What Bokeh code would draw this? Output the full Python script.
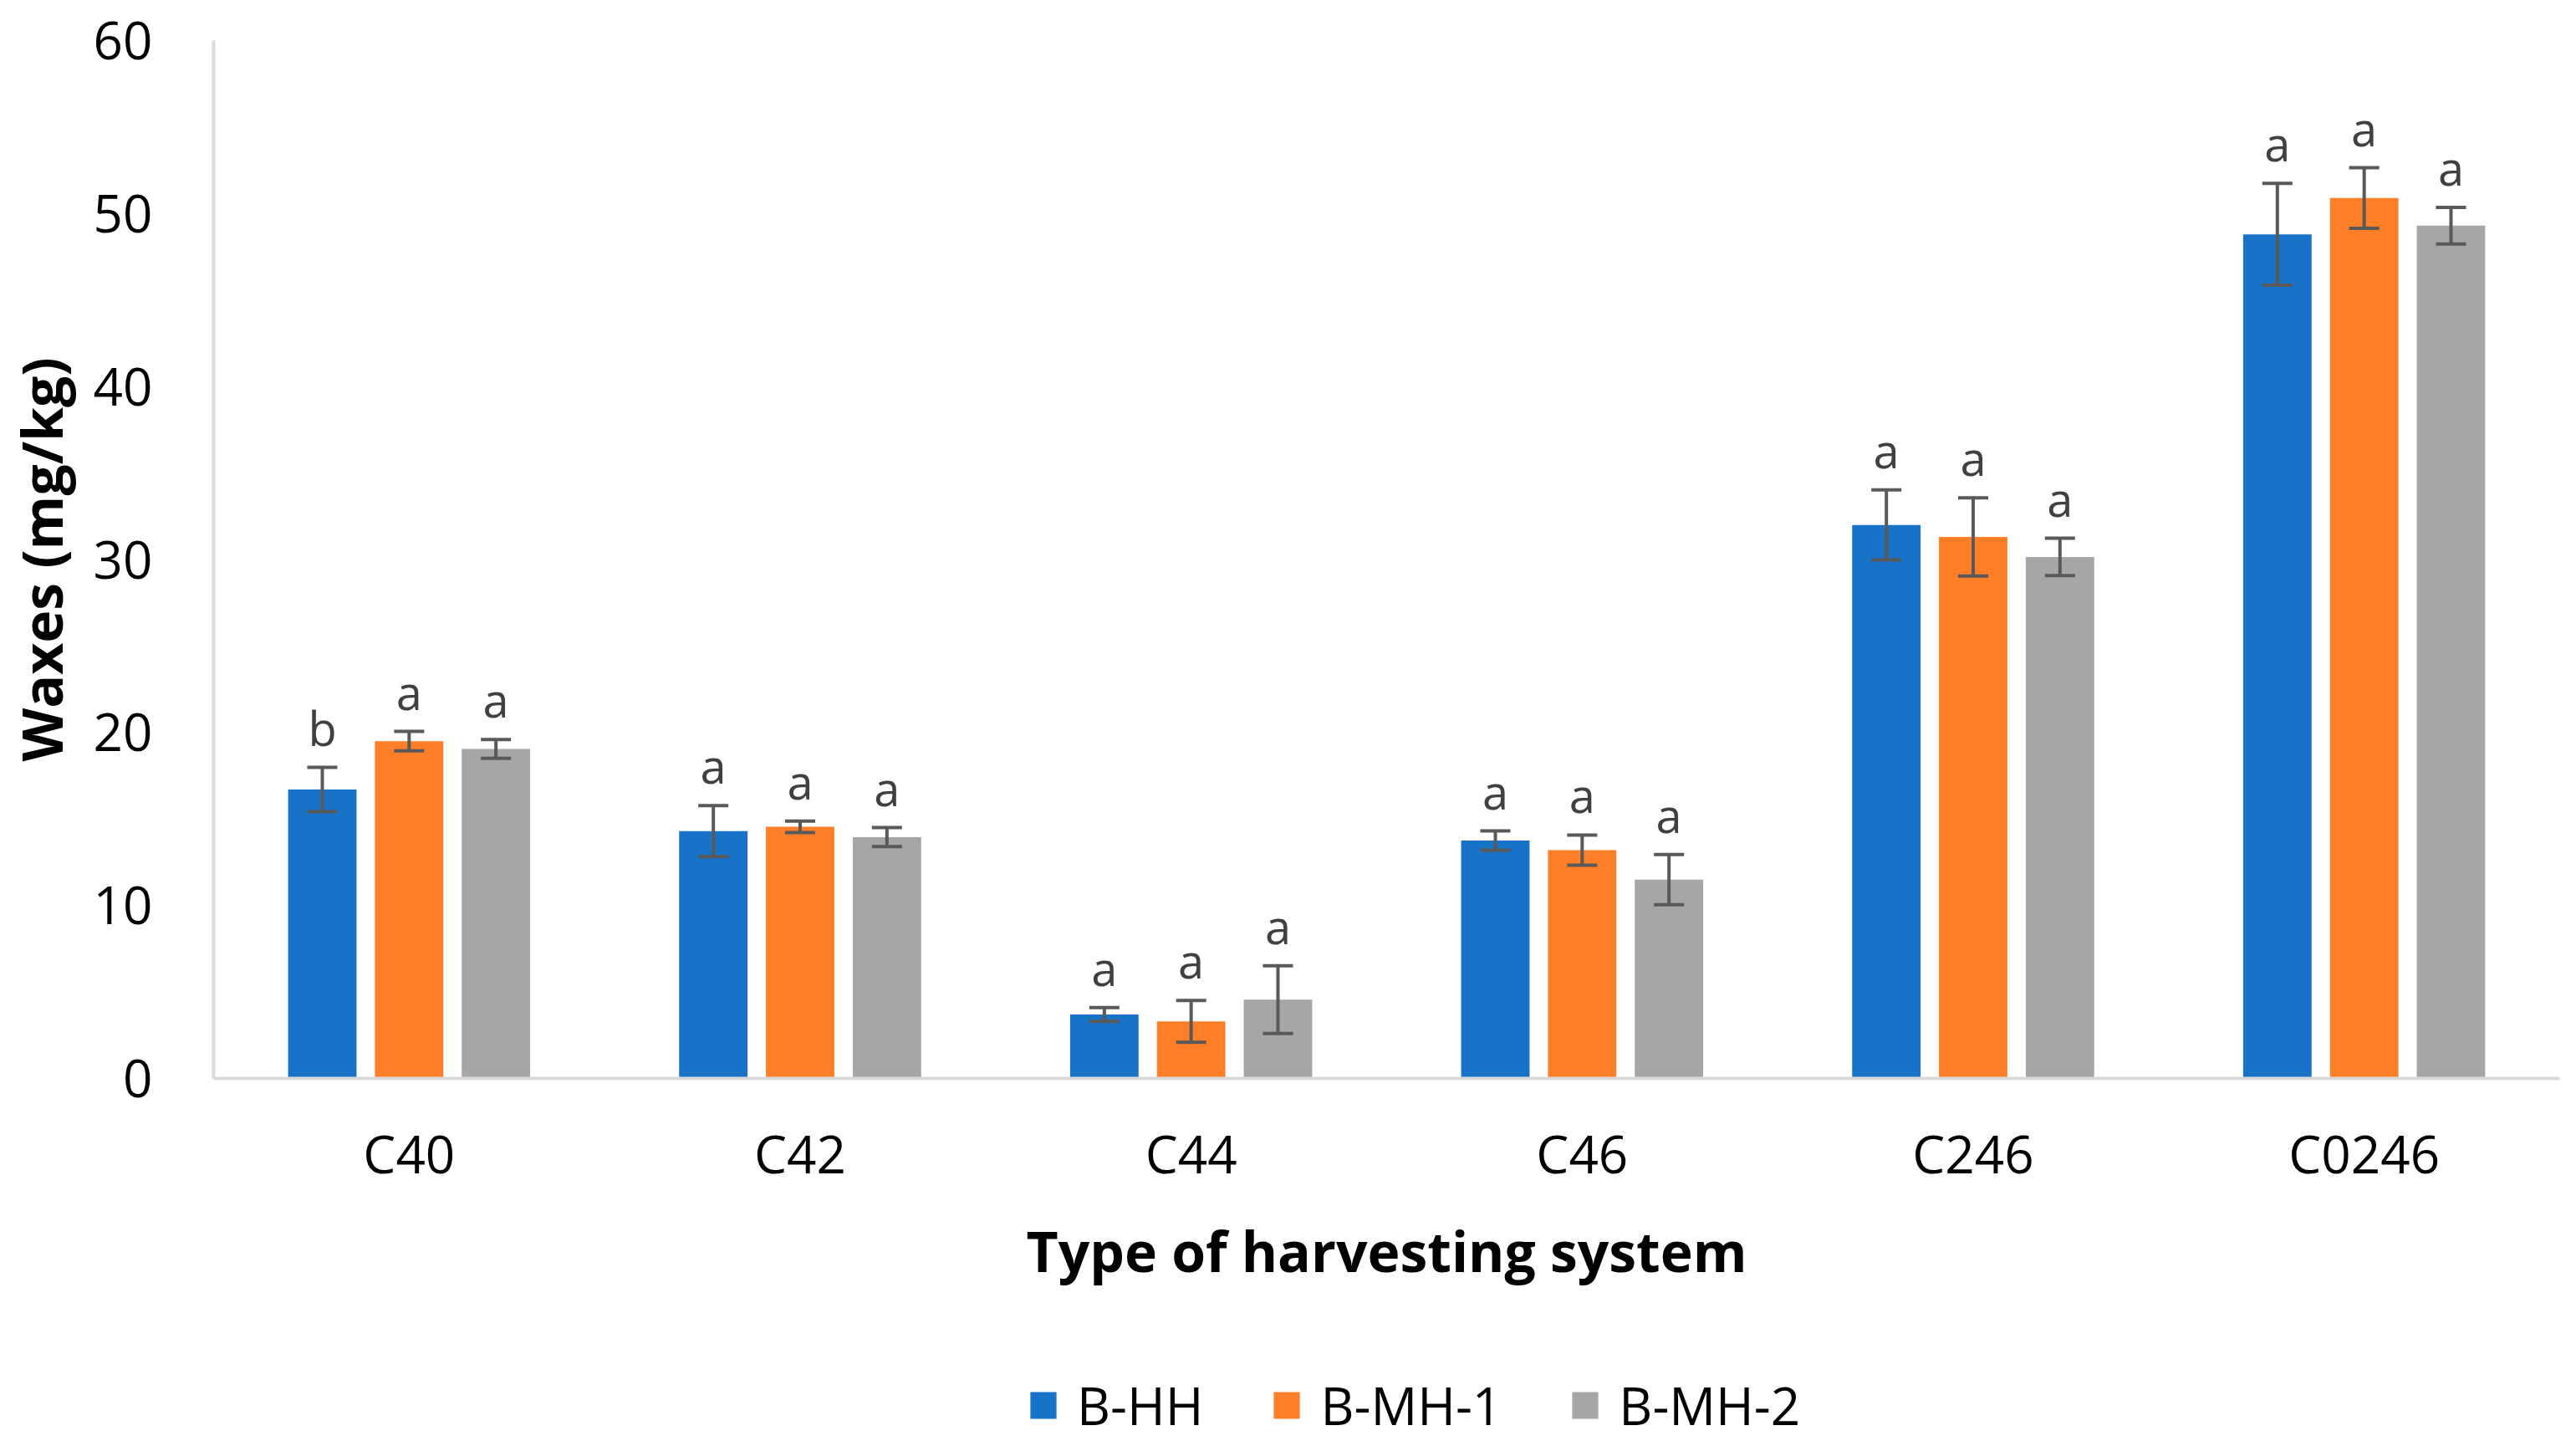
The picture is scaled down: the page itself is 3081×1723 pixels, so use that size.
from bokeh.plotting import figure
from bokeh.layouts import column
from bokeh.models import (ColumnDataSource, FactorRange, Range1d, Whisker, LabelSet,
                          Legend, LegendItem, FixedTicker, TeeHead)
from bokeh.transform import dodge
from bokeh.core.properties import value
from bokeh.embed import file_html
from bokeh.resources import INLINE

# ---- data ----
categories = ["C40", "C42", "C44", "C46", "C246", "C0246"]
series_names = ["B-HH", "B-MH-1", "B-MH-2"]

bhh = [16.7, 14.3, 3.7, 13.75, 32.0, 48.8]
bhh_err = [1.28, 1.47, 0.40, 0.56, 2.02, 2.94]
bhh_sig = ["b", "a", "a", "a", "a", "a"]

bmh1 = [19.5, 14.55, 3.3, 13.2, 31.3, 50.9]
bmh1_err = [0.56, 0.33, 1.21, 0.87, 2.26, 1.75]
bmh1_sig = ["a", "a", "a", "a", "a", "a"]

bmh2 = [19.05, 13.95, 4.56, 11.5, 30.15, 49.3]
bmh2_err = [0.54, 0.55, 1.96, 1.45, 1.08, 1.06]
bmh2_sig = ["a", "a", "a", "a", "a", "a"]

y_ticks = [0, 10, 20, 30, 40, 50, 60]

colors = ["#1873C8", "#FE7F27", "#A6A6A6"]
offsets = [-0.222, 0.0, 0.222]
FONT = "Open Sans"

p = figure(x_range=FactorRange(*categories), y_range=Range1d(0, 60),
           width=3065, height=1598, output_backend="svg", toolbar_location=None,
           min_border_left=247, min_border_right=4, min_border_top=48,
           min_border_bottom=309)

# legend strip: a separate figure below the chart sharing the chart's ranges
q = figure(x_range=p.x_range, y_range=p.y_range, width=3065, height=109,
           output_backend="svg", toolbar_location=None,
           x_axis_type=None, y_axis_type=None,
           min_border_left=0, min_border_right=0, min_border_top=0, min_border_bottom=0)
q.outline_line_color = None
q.xgrid.grid_line_color = None
q.ygrid.grid_line_color = None

leg_renderers = []
for vals, errs, sig, col, off in zip([bhh, bmh1, bmh2], [bhh_err, bmh1_err, bmh2_err],
                                     [bhh_sig, bmh1_sig, bmh2_sig], colors, offsets):
    src = ColumnDataSource(dict(cat=categories, val=vals,
                                upper=[v + e for v, e in zip(vals, errs)],
                                lower=[v - e for v, e in zip(vals, errs)],
                                sig=sig))
    p.vbar(x=dodge("cat", off, range=p.x_range), top="val", width=0.175,
           source=src, fill_color=col, line_color=None)
    # hidden copy in the legend strip, used only for its legend swatch
    lr = q.vbar(x=dodge("cat", off, range=p.x_range), top="val", width=0.175,
                source=src, fill_color=col, line_color=None, visible=False)
    leg_renderers.append(lr)
    w = Whisker(base=dodge("cat", off, range=p.x_range), upper="upper", lower="lower",
                source=src, line_color="#595959", line_width=4, level="annotation",
                upper_head=TeeHead(size=36, line_color="#595959", line_width=4),
                lower_head=TeeHead(size=36, line_color="#595959", line_width=4))
    p.add_layout(w)
    lab = LabelSet(x=dodge("cat", off, range=p.x_range), y="upper", text="sig",
                   source=src, y_offset=48, text_align="center", text_baseline="middle",
                   text_font=value(FONT), text_font_size="56px", text_color="#404040")
    p.add_layout(lab)

# axes
for ax in (p.xaxis, p.yaxis):
    ax.axis_line_color = "#D9D9D9"
    ax.axis_line_width = 4
    ax.major_tick_line_color = None
    ax.minor_tick_line_color = None
    ax.major_label_text_font = FONT
    ax.major_label_text_font_size = "62px"
    ax.major_label_text_color = "#000000"
    ax.axis_label_text_font = FONT
    ax.axis_label_text_font_size = "66px"
    ax.axis_label_text_font_style = "bold"
    ax.axis_label_text_color = "#000000"

p.xaxis.axis_label = "Type of harvesting system"
p.yaxis.axis_label = "Waxes (mg/kg)"
p.yaxis.ticker = FixedTicker(ticks=y_ticks)
p.xaxis.major_label_standoff = 41
p.xaxis.axis_label_standoff = 26
p.yaxis.major_label_standoff = 67
p.yaxis.axis_label_standoff = 15

p.xgrid.grid_line_color = None
p.ygrid.grid_line_color = None
p.outline_line_color = None
p.background_fill_color = "white"
p.border_fill_color = "white"

legend = Legend(items=[LegendItem(label=n, renderers=[r]) for n, r in zip(series_names, leg_renderers)],
                orientation="horizontal", location=(973, -15),
                glyph_width=39, glyph_height=40, label_standoff=21, spacing=80,
                padding=0, margin=0, border_line_color=None, background_fill_alpha=0,
                label_text_font=FONT, label_text_font_size="62px", label_text_color="#000000")
q.add_layout(legend)

layout = column(p, q, spacing=0)
open("out.html", "w").write(file_html(layout, INLINE))
